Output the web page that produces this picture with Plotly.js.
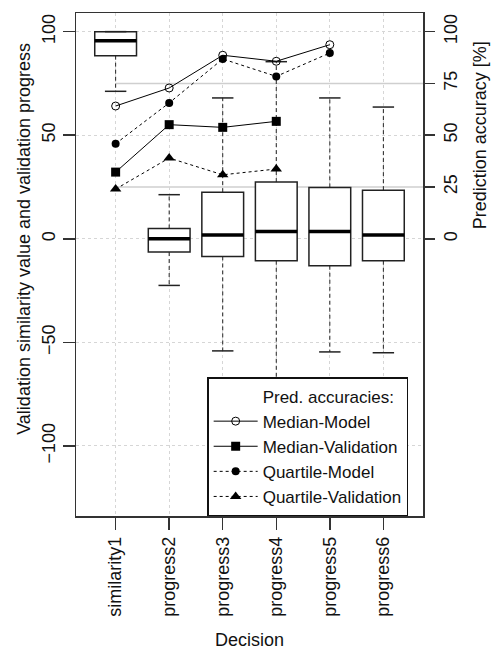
<!DOCTYPE html>
<html>
<head>
<meta charset="utf-8">
<script src="https://cdn.plot.ly/plotly-3.0.1.min.js"></script>
<style>html,body{margin:0;padding:0;background:#fff;}#chart{width:491px;height:650px;}</style>
</head>
<body>
<div id="chart"></div>
<script>
// ---- data ----
const categories = ['similarity1', 'progress2', 'progress3', 'progress4', 'progress5', 'progress6'];
const boxQ1 = [88.4, -6.4, -8.5, -10.6, -13.0, -10.6];
const boxMedian = [95.6, 0, 1.9, 3.5, 3.5, 1.9];
const boxQ3 = [100, 5.0, 22.5, 27.4, 24.8, 23.5];
const whiskerLow = [71.2, -22.5, -54.1, -67.6, -54.6, -55.0];
const whiskerHigh = [100, 21.3, 68.0, 85.5, 68.0, 63.6];

const medianModel = [64.1, 72.8, 88.6, 85.7, 93.7, null];
const medianValidation = [32.2, 55.1, 53.8, 56.7, null, null];
const quartileModel = [45.9, 65.6, 86.8, 78.4, 89.7, null];
const quartileValidation = [24.0, 39.0, 30.9, 33.7, null, null];

const leftTicks = [-100, -50, 0, 50, 100];
const rightTicks = [0, 25, 50, 75, 100];
const refLines = [25, 75];

// ---- build ----
const pos = categories.map((c, i) => i + 1);
const yRange = [-133.8, 109];
const xRange = [0.26, 6.74];
const halfBox = 0.39, halfStaple = 0.2;
const ink = '#111';
const font = {family: 'Arial, "Liberation Sans", sans-serif', size: 18, color: ink};
const legendFont = {family: 'Arial, "Liberation Sans", sans-serif', size: 17, color: ink};

function segs(fn) {
  const xs = [], ys = [];
  pos.forEach((p, i) => { const s = fn(p, i); xs.push(s[0], s[1], null); ys.push(s[2], s[3], null); });
  return {x: xs, y: ys};
}

const traces = [];
traces.push({
  type: 'box', x: pos, q1: boxQ1, median: boxMedian, q3: boxQ3,
  lowerfence: boxQ1, upperfence: boxQ3, width: 2 * halfBox,
  fillcolor: '#ffffff', line: {color: '#222', width: 1.5}, whiskerwidth: 0,
  boxpoints: false, showlegend: false, hoverinfo: 'skip'
});
const wU = segs((p, i) => [p, p, boxQ3[i], whiskerHigh[i]]);
const wL = segs((p, i) => [p, p, boxQ1[i], whiskerLow[i]]);
traces.push({type: 'scatter', mode: 'lines', x: wU.x.concat(wL.x), y: wU.y.concat(wL.y),
  line: {color: '#222', width: 1, dash: '4px,3px'}, showlegend: false, hoverinfo: 'skip'});
const sU = segs((p, i) => [p - halfStaple, p + halfStaple, whiskerHigh[i], whiskerHigh[i]]);
const sL = segs((p, i) => [p - halfStaple, p + halfStaple, whiskerLow[i], whiskerLow[i]]);
traces.push({type: 'scatter', mode: 'lines', x: sU.x.concat(sL.x), y: sU.y.concat(sL.y),
  line: {color: '#222', width: 1.5}, showlegend: false, hoverinfo: 'skip'});
const md = segs((p, i) => [p - halfBox, p + halfBox, boxMedian[i], boxMedian[i]]);
traces.push({type: 'scatter', mode: 'lines', x: md.x, y: md.y,
  line: {color: '#000', width: 3.5}, showlegend: false, hoverinfo: 'skip'});

// legend title as a blank entry
traces.push({type: 'scatter', mode: 'lines', x: [null], y: [null], yaxis: 'y2',
  name: 'Pred. accuracies:', line: {color: 'rgba(0,0,0,0)', width: 0}, hoverinfo: 'skip'});
traces.push({type: 'scatter', mode: 'lines+markers', x: pos, y: medianModel, yaxis: 'y2',
  name: 'Median-Model', line: {color: '#000', width: 1},
  marker: {symbol: 'circle-open', size: 8, color: '#000', line: {width: 1}}});
traces.push({type: 'scatter', mode: 'lines+markers', x: pos, y: medianValidation, yaxis: 'y2',
  name: 'Median-Validation', line: {color: '#000', width: 1},
  marker: {symbol: 'square', size: 9, color: '#000'}});
traces.push({type: 'scatter', mode: 'lines+markers', x: pos, y: quartileModel, yaxis: 'y2',
  name: 'Quartile-Model', line: {color: '#000', width: 1, dash: 'dot'},
  marker: {symbol: 'circle', size: 8, color: '#000'}});
traces.push({type: 'scatter', mode: 'lines+markers', x: pos, y: quartileValidation, yaxis: 'y2',
  name: 'Quartile-Validation', line: {color: '#000', width: 1, dash: 'dot'},
  marker: {symbol: 'triangle-up', size: 10, color: '#000'}});

const layout = {
  width: 491, height: 650,
  margin: {l: 76, r: 68, t: 13, b: 134},
  paper_bgcolor: '#fff', plot_bgcolor: '#fff',
  font: font,
  showlegend: true,
  legend: {x: 0.378, xanchor: 'left', y: 0, yanchor: 'bottom', bgcolor: '#fff',
    bordercolor: '#111', borderwidth: 1.5, font: legendFont, tracegroupgap: 0,
    itemwidth: 44, entrywidth: 160},
  xaxis: {range: xRange, tickvals: pos, ticktext: categories, tickangle: -90,
    showgrid: true, gridcolor: '#d6d6d6', griddash: 'dot', gridwidth: 1, zeroline: false,
    showline: true, mirror: true, linecolor: '#333', linewidth: 1.5,
    ticks: 'outside', ticklen: 12, tickwidth: 1.5, tickcolor: '#333',
    title: {text: 'Decision', font: font, standoff: 18}},
  yaxis: {range: yRange, tickvals: leftTicks, tickangle: -90,
    showgrid: true, gridcolor: '#d6d6d6', griddash: 'dot', gridwidth: 1, zeroline: false,
    showline: true, mirror: true, linecolor: '#333', linewidth: 1.5,
    ticks: 'outside', ticklen: 12, tickwidth: 1.5, tickcolor: '#333'},
  yaxis2: {range: yRange, tickvals: rightTicks, tickangle: -90, overlaying: 'y', side: 'right',
    showgrid: false, zeroline: false, showline: false,
    ticks: 'outside', ticklen: 11, tickwidth: 1.5, tickcolor: '#333'},
  shapes: refLines.map(v => ({type: 'line', xref: 'x', yref: 'y2', x0: pos[0], x1: xRange[1],
    y0: v, y1: v, line: {color: '#cfcfcf', width: 1.5}, layer: 'below'})),
  annotations: [
    {text: 'Validation similarity value and validation progress', xref: 'paper', yref: 'y',
      x: 0, y: 0, xanchor: 'center', yanchor: 'middle', xshift: -52, textangle: -90,
      showarrow: false, font: font},
    {text: 'Prediction accuracy [%]', xref: 'paper', yref: 'y2',
      x: 1, y: 50, xanchor: 'center', yanchor: 'middle', xshift: 57, textangle: -90,
      showarrow: false, font: font}
  ]
};

Plotly.newPlot('chart', traces, layout, {staticPlot: true, displayModeBar: false});
</script>
</body>
</html>
